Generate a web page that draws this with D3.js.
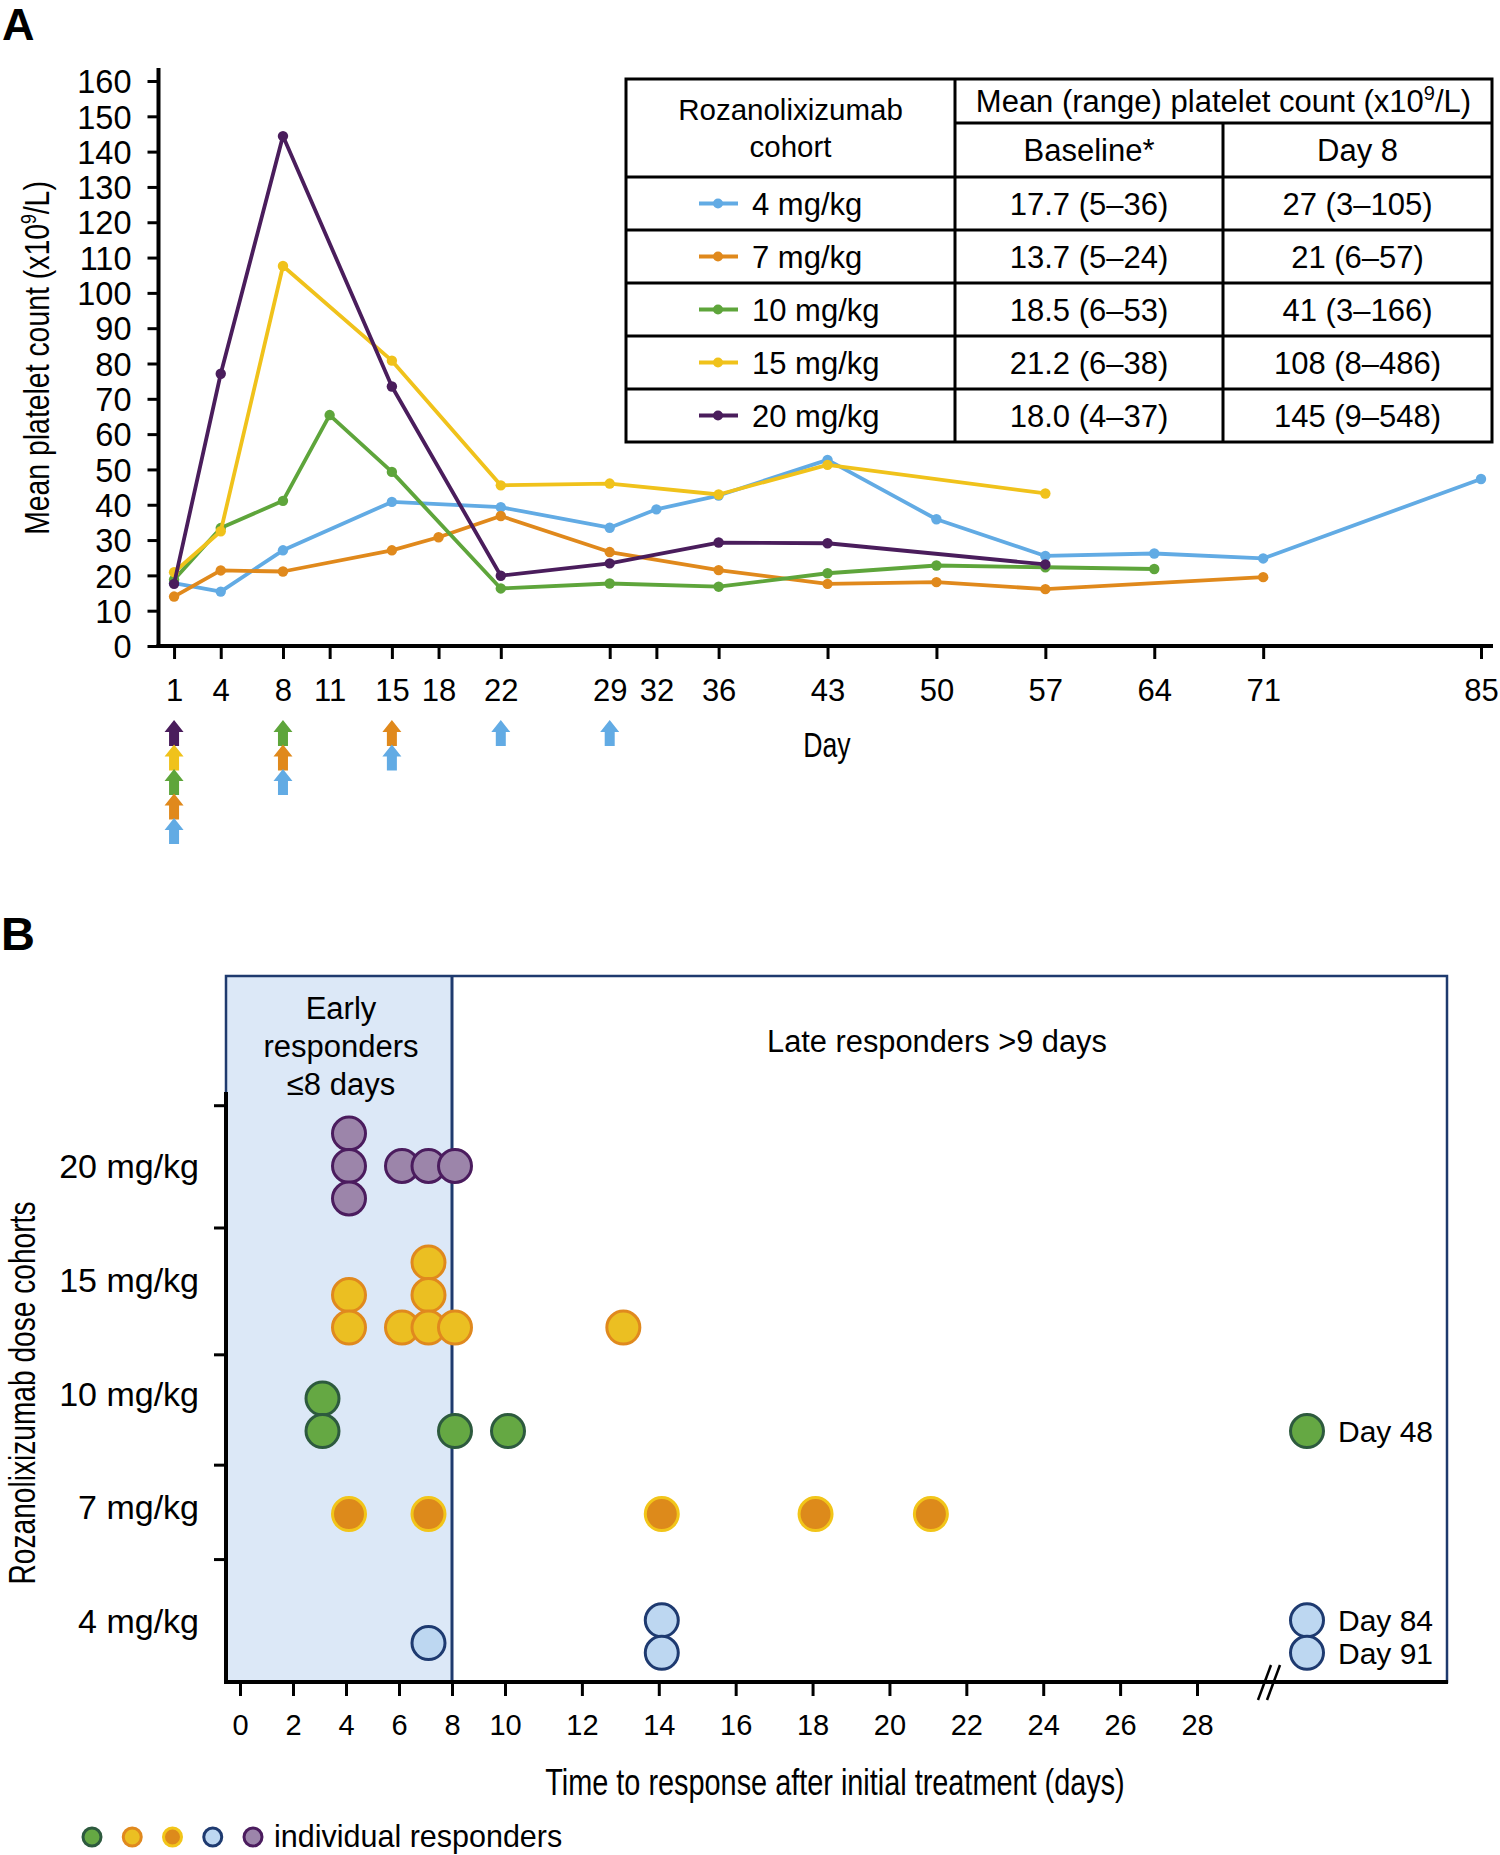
<!DOCTYPE html>
<html><head><meta charset="utf-8">
<script src="https://cdn.jsdelivr.net/npm/d3@7/dist/d3.min.js"></script>
<style>body{margin:0;background:#fff}svg{display:block}text{font-family:"Liberation Sans",Arial,Helvetica,sans-serif;fill:#000}</style>
</head><body><svg id="c" width="1500" height="1855"></svg>
<script>
// ---------------- DATA ----------------
const cohorts = ["4 mg/kg", "7 mg/kg", "10 mg/kg", "15 mg/kg", "20 mg/kg"];
const dayTicks = [1, 4, 8, 11, 15, 18, 22, 29, 32, 36, 43, 50, 57, 64, 71, 85];
const yTicksA = [0, 10, 20, 30, 40, 50, 60, 70, 80, 90, 100, 110, 120, 130, 140, 150, 160];
const days4 = [1, 4, 8, 15, 22, 29, 32, 36, 43, 50, 57, 64, 71, 85];
const vals4 = [17.8, 15.4, 27.1, 40.8, 39.3, 33.5, 38.7, 42.6, 52.7, 35.9, 25.5, 26.2, 24.8, 47.3];
const days7 = [1, 4, 8, 15, 18, 22, 29, 36, 43, 50, 57, 71];
const vals7 = [14.0, 21.4, 21.1, 27.1, 30.8, 36.8, 26.6, 21.5, 17.6, 18.1, 16.1, 19.5];
const days10 = [1, 4, 8, 11, 15, 22, 29, 36, 43, 50, 57, 64];
const vals10 = [18.8, 33.4, 41.1, 65.4, 49.3, 16.3, 17.7, 16.8, 20.6, 22.8, 22.3, 21.8];
const days15 = [1, 4, 8, 15, 22, 29, 36, 43, 57];
const vals15 = [20.9, 32.5, 107.6, 80.8, 45.5, 46.0, 42.9, 51.3, 43.2];
const days20 = [1, 4, 8, 15, 22, 29, 36, 43, 57];
const vals20 = [17.6, 77.1, 144.4, 73.5, 19.9, 23.4, 29.3, 29.1, 23.1];
const baselineCol = ["17.7 (5–36)", "13.7 (5–24)", "18.5 (6–53)", "21.2 (6–38)", "18.0 (4–37)"];
const day8Col = ["27 (3–105)", "21 (6–57)", "41 (3–166)", "108 (8–486)", "145 (9–548)"];
// dosing arrows: day and cohorts (top to bottom)
const doseDays = [1, 8, 15, 22, 29];
const doseCohorts = [["20 mg/kg", "15 mg/kg", "10 mg/kg", "7 mg/kg", "4 mg/kg"], ["10 mg/kg", "7 mg/kg", "4 mg/kg"], ["7 mg/kg", "4 mg/kg"], ["4 mg/kg"], ["4 mg/kg"]];
// Panel B responders
const respCohorts = ["20 mg/kg", "15 mg/kg", "10 mg/kg", "7 mg/kg", "4 mg/kg"];
const respCohort = ["20 mg/kg","20 mg/kg","20 mg/kg","20 mg/kg","20 mg/kg","20 mg/kg",
  "15 mg/kg","15 mg/kg","15 mg/kg","15 mg/kg","15 mg/kg","15 mg/kg","15 mg/kg","15 mg/kg",
  "10 mg/kg","10 mg/kg","10 mg/kg","10 mg/kg",
  "7 mg/kg","7 mg/kg","7 mg/kg","7 mg/kg","7 mg/kg",
  "4 mg/kg","4 mg/kg","4 mg/kg"];
const respDay = [4,4,4,6,7,8, 4,4,6,7,7,7,8,13, 3,3,8,10, 4,7,14,18,21, 7,14,14];
const respStack = [1,0,-1,0,0,0, 1,0,0,2,1,0,0,0, 1,0,0,0, 0,0,0,0,0, 0.3,1,0];
const lateCohort = ["10 mg/kg", "4 mg/kg", "4 mg/kg"];
const lateDay = [48, 84, 91];
const lateStack = [0, 1, 0];
const bTicks = [0, 2, 4, 6, 8, 10, 12, 14, 16, 18, 20, 22, 24, 26, 28];

// ---------------- STYLE ----------------
const lineColor = {"4 mg/kg": "#62ABE4", "7 mg/kg": "#E0891C", "10 mg/kg": "#5EA53B", "15 mg/kg": "#F0C21B", "20 mg/kg": "#4A1D5C"};
const dotFill = {"20 mg/kg": "#9C85AA", "15 mg/kg": "#EBBF22", "10 mg/kg": "#65A843", "7 mg/kg": "#DD8A1B", "4 mg/kg": "#BDD7F1"};
const dotStroke = {"20 mg/kg": "#4B1C5E", "15 mg/kg": "#E0891E", "10 mg/kg": "#2D5A3E", "7 mg/kg": "#F2C519", "4 mg/kg": "#1E3A70"};
const NAVY = "#1E3A6E";

const svg = d3.select("#c");
function ctext(parent, x, y, str, size, sx, anchor, rot) {
  const g = parent.append("g").attr("transform", `translate(${x},${y}) rotate(${rot || 0}) scale(${sx},1)`);
  return g.append("text").attr("text-anchor", anchor || "middle").attr("font-size", size).text(str);
}

// ================= PANEL A =================
svg.append("text").attr("x", 2).attr("y", 40).attr("font-size", 45).attr("font-weight", "bold").text("A");
const xA = d3.scaleLinear().domain([0, 85]).range([158.5, 1481]);
const yA = d3.scaleLinear().domain([0, 160]).range([646, 81]);
const gA = svg.append("g");

// y axis
const yAxis = d3.axisLeft(yA).tickValues(yTicksA).tickSize(11).tickPadding(5).tickSizeOuter(0);
const gy = gA.append("g").attr("transform", `translate(${xA(0)},0)`).call(yAxis);
gy.select(".domain").remove();
gy.selectAll(".tick line").attr("stroke", "#000").attr("stroke-width", 3);
gy.selectAll(".tick text").attr("font-size", 32.5).attr("font-family", '"Liberation Sans",Arial,sans-serif').attr("fill", "#000").attr("x", -27).attr("dy", "0.36em");
gA.append("line").attr("x1", xA(0)).attr("x2", xA(0)).attr("y1", 68).attr("y2", 648).attr("stroke", "#000").attr("stroke-width", 4);

// x axis
const xAxis = d3.axisBottom(xA).tickValues(dayTicks).tickSize(12).tickPadding(20).tickSizeOuter(0);
const gx = gA.append("g").attr("transform", `translate(0,${yA(0) + 1})`).call(xAxis);
gx.select(".domain").remove();
gx.selectAll(".tick line").attr("stroke", "#000").attr("stroke-width", 3);
gx.selectAll(".tick text").attr("font-size", 31).attr("font-family", '"Liberation Sans",Arial,sans-serif').attr("fill", "#000");
gA.append("line").attr("x1", xA(0) - 2).attr("x2", 1493).attr("y1", yA(0)).attr("y2", yA(0)).attr("stroke", "#000").attr("stroke-width", 4);

// axis titles
ctext(gA, 827, 757, "Day", 36, 0.74, "middle");
const yt = ctext(gA, 49, 358, "", 35.5, 0.8, "middle", -90);
yt.append("tspan").text("Mean platelet count (x10");
yt.append("tspan").attr("font-size", 22).attr("dy", -13).text("9");
yt.append("tspan").attr("dy", 13).text("/L)");

// series
const seriesA = [
  {c: "4 mg/kg", d: days4, v: vals4},
  {c: "7 mg/kg", d: days7, v: vals7},
  {c: "10 mg/kg", d: days10, v: vals10},
  {c: "15 mg/kg", d: days15, v: vals15},
  {c: "20 mg/kg", d: days20, v: vals20}
];
const lineGen = d3.line().x(p => xA(p[0])).y(p => yA(p[1]));
seriesA.forEach(s => {
  const pts = s.d.map((d, i) => [d, s.v[i]]);
  gA.append("path").attr("d", lineGen(pts)).attr("fill", "none").attr("stroke", lineColor[s.c]).attr("stroke-width", 3.8).attr("stroke-linejoin", "round");
  gA.selectAll(null).data(pts).enter().append("circle").attr("cx", p => xA(p[0])).attr("cy", p => yA(p[1])).attr("r", 5.2).attr("fill", lineColor[s.c]);
});

// dosing arrows
const arrowStep = 24.5, arrowTop = 720;
doseDays.forEach((day, i) => {
  doseCohorts[i].forEach((c, k) => {
    const cx = xA(day), ty = arrowTop + k * arrowStep;
    const path = `M${cx},${ty} L${cx + 9.5},${ty + 12} L${cx + 5},${ty + 12} L${cx + 5},${ty + 26} L${cx - 5},${ty + 26} L${cx - 5},${ty + 12} L${cx - 9.5},${ty + 12} Z`;
    gA.append("path").attr("d", path).attr("fill", lineColor[c]);
  });
});

// table
const tL = 626, tC1 = 955, tC2 = 1223, tR = 1492, tTop = 79, tSub = 123, tHead = 177, tBot = 442;
const rowY = d3.scaleBand().domain(cohorts).range([tHead, tBot]);
const gT = svg.append("g");
const tl = (x1, y1, x2, y2) => gT.append("line").attr("x1", x1).attr("y1", y1).attr("x2", x2).attr("y2", y2).attr("stroke", "#000").attr("stroke-width", 3);
gT.append("rect").attr("x", tL).attr("y", tTop).attr("width", tR - tL).attr("height", tBot - tTop).attr("fill", "#fff").attr("stroke", "#000").attr("stroke-width", 3);
tl(tC1, tTop, tC1, tBot);
tl(tC2, tSub, tC2, tBot);
tl(tC1, tSub, tR, tSub);
cohorts.forEach(c => tl(tL, rowY(c), tR, rowY(c)));
const TS = 31;
gT.append("text").attr("x", (tL + tC1) / 2).attr("y", 120).attr("text-anchor", "middle").attr("font-size", 29.5).text("Rozanolixizumab");
gT.append("text").attr("x", (tL + tC1) / 2).attr("y", 157).attr("text-anchor", "middle").attr("font-size", 29.5).text("cohort");
const ht = gT.append("text").attr("x", (tC1 + tR) / 2).attr("y", 112).attr("text-anchor", "middle").attr("font-size", TS);
ht.append("tspan").text("Mean (range) platelet count (x10");
ht.append("tspan").attr("font-size", 20).attr("dy", -12).text("9");
ht.append("tspan").attr("dy", 12).text("/L)");
gT.append("text").attr("x", (tC1 + tC2) / 2).attr("y", 161).attr("text-anchor", "middle").attr("font-size", TS).text("Baseline*");
gT.append("text").attr("x", (tC2 + tR) / 2).attr("y", 161).attr("text-anchor", "middle").attr("font-size", TS).text("Day 8");
cohorts.forEach((c, i) => {
  const cy = rowY(c) + rowY.bandwidth() / 2, by = cy + 11;
  gT.append("line").attr("x1", 699).attr("x2", 738).attr("y1", cy).attr("y2", cy).attr("stroke", lineColor[c]).attr("stroke-width", 4);
  gT.append("circle").attr("cx", 718).attr("cy", cy).attr("r", 5).attr("fill", lineColor[c]);
  gT.append("text").attr("x", 752).attr("y", by).attr("font-size", TS).text(c);
  gT.append("text").attr("x", (tC1 + tC2) / 2).attr("y", by).attr("text-anchor", "middle").attr("font-size", TS).text(baselineCol[i]);
  gT.append("text").attr("x", (tC2 + tR) / 2).attr("y", by).attr("text-anchor", "middle").attr("font-size", TS).text(day8Col[i]);
});

// ================= PANEL B =================
svg.append("text").attr("x", 1).attr("y", 950).attr("font-size", 47).attr("font-weight", "bold").text("B");
const xB = d3.scaleLinear().domain([0, 10, 28]).range([240, 505, 1197]);
const yB = d3.scalePoint().domain(respCohorts).range([1166, 1621]);
const rowUnit = yB.step();
const yRow = d3.scaleLinear().domain([0, 4]).range([1166, 1621]);
const boxL = 226, boxT = 976, boxR = 1447, boxB = 1682;
const gB = svg.append("g");
gB.append("rect").attr("x", boxL).attr("y", boxT).attr("width", xB(8) - boxL).attr("height", boxB - boxT).attr("fill", "#DCE8F7");
gB.append("rect").attr("x", boxL).attr("y", boxT).attr("width", boxR - boxL).attr("height", boxB - boxT).attr("fill", "none").attr("stroke", NAVY).attr("stroke-width", 2.5);
gB.append("line").attr("x1", xB(8)).attr("x2", xB(8)).attr("y1", boxT).attr("y2", boxB).attr("stroke", NAVY).attr("stroke-width", 3);

// texts
[["Early", 1019], ["responders", 1057], ["≤8 days", 1095]].forEach(t => {
  gB.append("text").attr("x", 341).attr("y", t[1]).attr("text-anchor", "middle").attr("font-size", 31).text(t[0]);
});
gB.append("text").attr("x", 937).attr("y", 1052).attr("text-anchor", "middle").attr("font-size", 30.8).text("Late responders >9 days");

// y axis B
const tickRows = [-0.53, 0.545, 1.66, 2.63, 3.46];
gB.append("line").attr("x1", boxL).attr("x2", boxL).attr("y1", 1092).attr("y2", boxB + 2).attr("stroke", "#000").attr("stroke-width", 4);
tickRows.forEach(r => gB.append("line").attr("x1", boxL - 12).attr("x2", boxL).attr("y1", yRow(r)).attr("y2", yRow(r)).attr("stroke", "#000").attr("stroke-width", 3));
respCohorts.forEach(c => gB.append("text").attr("x", 199).attr("y", yB(c) + 12).attr("text-anchor", "end").attr("font-size", 34).text(c));
ctext(gB, 35, 1393, "Rozanolixizumab dose cohorts", 37, 0.76, "middle", -90);

// x axis B
const xAxisB = d3.axisBottom(xB).tickValues(bTicks).tickSize(13).tickPadding(18).tickSizeOuter(0);
const gxb = gB.append("g").attr("transform", `translate(0,${boxB + 1})`).call(xAxisB);
gxb.select(".domain").remove();
gxb.selectAll(".tick line").attr("stroke", "#000").attr("stroke-width", 3);
gxb.selectAll(".tick text").attr("font-size", 29).attr("font-family", '"Liberation Sans",Arial,sans-serif').attr("fill", "#000");
gB.append("line").attr("x1", boxL - 2).attr("x2", boxR + 1).attr("y1", boxB).attr("y2", boxB).attr("stroke", "#000").attr("stroke-width", 4);
// axis break
[0, 9].forEach(o => gB.append("line").attr("x1", 1258 + o).attr("y1", 1700).attr("x2", 1271 + o).attr("y2", 1665).attr("stroke", "#000").attr("stroke-width", 2.5));
ctext(gB, 835, 1795, "Time to response after initial treatment (days)", 37, 0.78, "middle");

// dots
const baseOffset = {"20 mg/kg": 0, "15 mg/kg": 0.42, "10 mg/kg": 0.33, "7 mg/kg": 0.06, "4 mg/kg": 0.28};
const stackPx = 32.5, R = 16.5, dotShift = 3;
const dotY = (c, s) => yB(c) + baseOffset[c] * rowUnit - s * stackPx;
const dots = respDay.map((d, i) => ({c: respCohort[i], x: xB(d) + dotShift, y: dotY(respCohort[i], respStack[i])}));
gB.selectAll(null).data(dots).enter().append("circle")
  .attr("cx", d => d.x).attr("cy", d => d.y).attr("r", R)
  .attr("fill", d => dotFill[d.c]).attr("stroke", d => dotStroke[d.c]).attr("stroke-width", 3);
const lateX = xB(28) + 110;
lateDay.forEach((d, i) => {
  const c = lateCohort[i], y = dotY(c, lateStack[i]);
  gB.append("circle").attr("cx", lateX).attr("cy", y).attr("r", R).attr("fill", dotFill[c]).attr("stroke", dotStroke[c]).attr("stroke-width", 3);
  gB.append("text").attr("x", lateX + 31).attr("y", y + 11).attr("font-size", 30).text("Day " + d);
});

// legend
const legOrder = ["10 mg/kg", "15 mg/kg", "7 mg/kg", "4 mg/kg", "20 mg/kg"];
const legX = d3.scalePoint().domain(legOrder).range([92, 253]);
legOrder.forEach(c => svg.append("circle").attr("cx", legX(c)).attr("cy", 1837).attr("r", 9).attr("fill", dotFill[c]).attr("stroke", dotStroke[c]).attr("stroke-width", 3));
svg.append("text").attr("x", 274).attr("y", 1847).attr("font-size", 30.5).text("individual responders");
</script></body></html>
